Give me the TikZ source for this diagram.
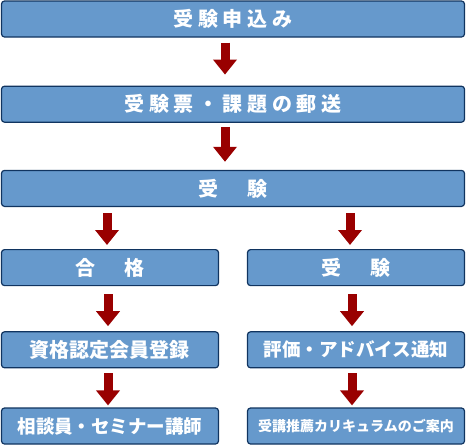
\documentclass[tikz,border=0pt]{standalone}
\usepackage{fontspec}
\setmainfont{Noto Sans CJK JP}
\newfontfamily\jpwide{Noto Sans CJK JP}[LetterSpace=23]
\usetikzlibrary{arrows.meta,positioning,calc}
\definecolor{FlowBlue}{RGB}{102,153,204}
\definecolor{FlowNavy}{RGB}{16,52,96}
\definecolor{FlowRed}{RGB}{153,0,0}

\begin{document}
\begin{tikzpicture}[every node/.style={font=\bfseries\fontsize{20}{24}\selectfont,text=white}]
\tikzset{box/.style={draw=FlowNavy,fill=FlowBlue,line width=1.2pt,rounded corners=3pt,minimum width=463pt,minimum height=36pt,inner sep=0pt,align=center},half/.style={box,minimum width=217pt},wide/.style={font=\jpwide\bfseries\fontsize{20}{24}\selectfont},mid/.style={font=\bfseries\fontsize{18.5}{22}\selectfont},small/.style={font=\bfseries\fontsize{14}{16}\selectfont},flow/.style={line width=9pt,draw=FlowRed,-{Triangle[length=15pt,width=23pt]}}}
\useasboundingbox (0,0) rectangle (467pt,-445pt);
\node[box,wide] (apply) at (233pt,-19pt) {受験申込み};
\node[box,wide,below=48pt of apply] (ticket) {受験票・課題の郵送};
\node[box,wide,below=47pt of ticket] (exam) {受　験};
\node[half,wide,below=42pt of exam.south west,anchor=north west] (pass) {合　格};
\node[half,wide,below=42pt of exam.south east,anchor=north east] (retake) {受　験};
\node[half,below=45pt of pass] (cert) {資格認定会員登録};
\node[half,mid,below=45pt of retake] (advice) {評価・アドバイス通知};
\node[half,mid,below=39pt of cert] (lecturer) {相談員・セミナー講師};
\node[half,small,below=39pt of advice] (course) {受講推薦カリキュラムのご案内};
% arrows
\draw[flow,shorten <=5pt,shorten >=11pt] ([xshift=-8pt]apply.south) -- ([xshift=-8pt]ticket.north);
\draw[flow,shorten <=4pt,shorten >=8pt] ([xshift=-8pt]ticket.south) -- ([xshift=-8pt]exam.north);
\draw[flow,shorten <=6pt,shorten >=4pt] ($(pass.north |- exam.south)+(-3pt,0)$) -- ([xshift=-3pt]pass.north);
\draw[flow,shorten <=6pt,shorten >=4pt] ($(retake.north |- exam.south)+(-6pt,0)$) -- ([xshift=-6pt]retake.north);
\draw[flow,shorten <=8pt,shorten >=5pt] ([xshift=-2pt]pass.south) -- ([xshift=-2pt]cert.north);
\draw[flow,shorten <=8pt,shorten >=5pt] ([xshift=-4pt]retake.south) -- ([xshift=-4pt]advice.north);
\draw[flow,shorten <=5pt,shorten >=2pt] ([xshift=-2pt]cert.south) -- ([xshift=-2pt]lecturer.north);
\draw[flow,shorten <=5pt,shorten >=2pt] ([xshift=-4pt]advice.south) -- ([xshift=-4pt]course.north);
\end{tikzpicture}
\end{document}
